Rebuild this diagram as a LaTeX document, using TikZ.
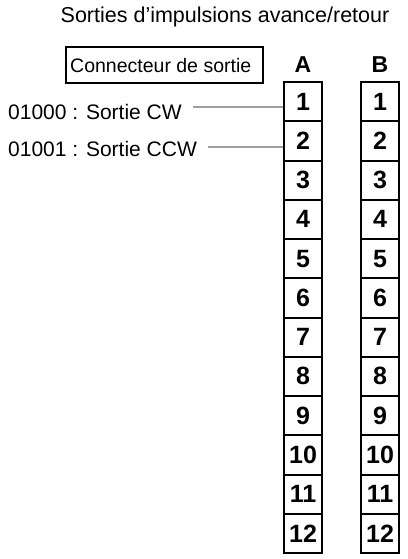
\documentclass[tikz,border=0pt]{standalone}
\usepackage{fontspec}
\setmainfont{Liberation Sans}
\begin{document}
\begin{tikzpicture}[x=1pt,y=-1pt,
  lbl/.style={font=\fontsize{21}{24}\selectfont, inner sep=0pt},
  cell/.style={draw, line width=2pt, minimum width=38pt, minimum height=39.25pt, inner sep=0pt, font=\fontsize{25}{28}\selectfont\bfseries},
  head/.style={font=\fontsize{23}{26}\selectfont\bfseries, inner sep=0pt},
  wire/.style={draw=gray!75, line width=2.6pt}]
\useasboundingbox (0,0) rectangle (407,559);
\node[lbl, font=\fontsize{21.5}{24}\selectfont, anchor=base] (title) at (225,23) {Sorties d'impulsions avance/retour};
\draw[line width=1.3pt] (66,47) rectangle (263,83);
\node[lbl, font=\fontsize{19.5}{22}\selectfont, anchor=base west] (conn) at (70,73) {Connecteur de sortie};
\node[head, anchor=base] (hA) at (303,73) {A};
\node[head, anchor=base] (hB) at (380,73) {B};
\foreach \i in {1,...,12} {
  \node[cell] (a\i) at (303,{82+39.25*(\i-0.5)}) {\i};
  \node[cell] (b\i) at (380,{82+39.25*(\i-0.5)}) {\i};
}
\node[lbl, anchor=base west] (cw) at (8,120) {01000 : Sortie CW};
\node[lbl, anchor=base west] (ccw) at (8,156) {01001 : Sortie CCW};
\coordinate (cwe) at (193,107);
\coordinate (ccwe) at (208,147);
\draw[wire] (cwe) -- (cwe -| a1.west);
\draw[wire] (ccwe) -- (ccwe -| a2.west);
\end{tikzpicture}
\end{document}
